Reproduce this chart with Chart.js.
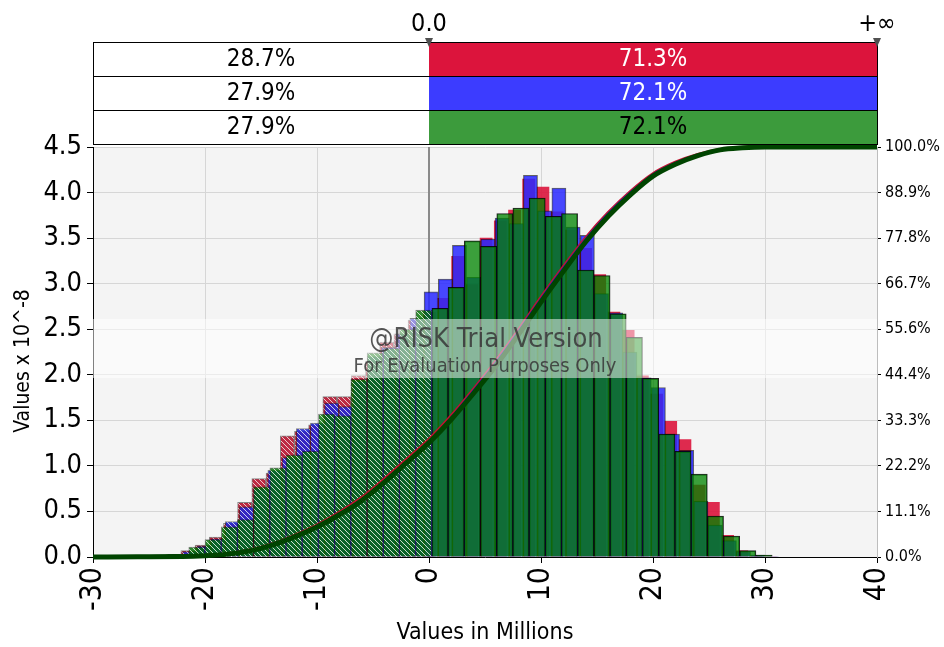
<!DOCTYPE html>
<html>
<head>
<meta charset="utf-8">
<script src="https://cdn.jsdelivr.net/npm/chart.js@4.4.1/dist/chart.umd.min.js"></script>
<style>
    html, body { margin: 0; padding: 0; background: #ffffff; }
    #wrap { width: 944px; height: 647px; }
</style>
</head>
<body>
<div id="wrap"><canvas id="chart" width="944" height="647"></canvas></div>
<script>
// Axis ticks
const xTickValues = [-30, -20, -10, 0, 10, 20, 30, 40];
const yTickValues = [0, 0.5, 1, 1.5, 2, 2.5, 3, 3.5, 4, 4.5];
const pctTickValues = [0, 11.1, 22.2, 33.3, 44.4, 55.6, 66.7, 77.8, 88.9, 100];

// Table above the plot (left of 0.0 / right of 0.0)
const leftShares = ["28.7%", "27.9%", "27.9%"];
const rightShares = ["71.3%", "72.1%", "72.1%"];
const splitLabels = ["0.0", "+\u221e"];

// Histogram: red simulation
const redCenters = [-29.14, -27.87, -26.60, -25.33, -24.06, -22.80, -21.53, -20.26, -18.99, -17.72,
    -16.46, -15.19, -13.92, -12.65, -11.38, -10.12, -8.85, -7.58, -6.31, -5.04, -3.78, -2.51, -1.24,
    0.03, 1.30, 2.56, 3.83, 5.10, 6.37, 7.64, 8.90, 10.17, 11.44, 12.71, 13.98, 15.24, 16.51, 17.78,
    19.05, 20.32, 21.58, 22.85, 24.12, 25.39, 26.66, 27.92, 29.19, 30.46];
const redHeights = [0.01, 0.01, 0.015, 0.015, 0.02, 0.03, 0.07, 0.13, 0.22, 0.37,
    0.60, 0.86, 0.92, 1.33, 1.38, 1.45, 1.76, 1.76, 1.99, 2.15, 2.36, 2.45, 2.60,
    2.70, 2.85, 3.31, 3.00, 3.51, 3.70, 3.82, 4.16, 4.07, 3.80, 3.60, 3.40, 3.11, 2.70, 2.50,
    2.00, 1.80, 1.50, 1.30, 0.80, 0.61, 0.25, 0.08, 0.02, 0.005];

// Histogram: blue simulation
const blueCenters = [-28.98, -27.71, -26.44, -25.17, -23.90, -22.64, -21.37, -20.10, -18.83, -17.56,
    -16.30, -15.03, -13.76, -12.49, -11.22, -9.96, -8.69, -7.42, -6.15, -4.88, -3.62, -2.35, -1.08,
    0.19, 1.46, 2.72, 3.99, 5.26, 6.53, 7.80, 9.06, 10.33, 11.60, 12.87, 14.14, 15.40, 16.67, 17.94,
    19.21, 20.48, 21.74, 23.01, 24.28, 25.55, 26.82, 28.08, 29.35, 30.62];
const blueHeights = [0.01, 0.01, 0.01, 0.015, 0.02, 0.03, 0.06, 0.12, 0.20, 0.39,
    0.55, 0.75, 0.95, 1.09, 1.41, 1.47, 1.69, 1.65, 1.93, 2.20, 2.30, 2.45, 2.62,
    2.91, 3.05, 3.42, 3.07, 3.49, 3.72, 3.66, 4.19, 3.80, 4.05, 3.62, 3.53, 2.89, 2.68, 2.25,
    1.97, 1.86, 1.35, 1.17, 0.61, 0.35, 0.18, 0.06, 0.02, 0.005];

// Histogram: green simulation
const greenCenters = [-29.41, -27.96, -26.52, -25.07, -23.62, -22.18, -20.73, -19.28, -17.83, -16.39,
    -14.94, -13.49, -12.05, -10.60, -9.15, -7.71, -6.26, -4.81, -3.36, -1.92, -0.47,
    0.98, 2.42, 3.87, 5.32, 6.77, 8.21, 9.66, 11.11, 12.55, 14.00, 15.45, 16.89, 18.34,
    19.79, 21.24, 22.68, 24.13, 25.58, 27.02, 28.47, 29.92];
const greenHeights = [0.01, 0.01, 0.01, 0.015, 0.02, 0.03, 0.11, 0.19, 0.33, 0.41,
    0.77, 0.98, 1.12, 1.16, 1.57, 1.55, 1.95, 2.24, 2.29, 2.50, 2.71,
    2.73, 2.96, 3.47, 3.41, 3.77, 3.83, 3.94, 3.74, 3.77, 3.15, 3.09, 2.67, 2.41,
    1.96, 1.35, 1.16, 0.91, 0.45, 0.23, 0.07, 0.02];

// Cumulative curves (percent, right axis)
const cumX = [-30, -26, -22, -20, -18, -16, -14, -12, -10, -8, -6, -4, -2, 0, 2, 4, 6, 8, 10,
    12, 14, 16, 18, 20, 22, 24, 26, 28, 30, 40];
const redCum = [0, 0.05, 0.15, 0.35, 0.8, 1.7, 3.2, 5.3, 7.8, 10.9, 14.5, 19.0, 23.8, 28.7, 34.5,
    41.0, 47.9, 55.4, 63.3, 70.8, 77.9, 84.0, 89.2, 93.5, 96.3, 98.2, 99.4, 99.9, 100, 100];
const blueCum = [0, 0.05, 0.12, 0.3, 0.75, 1.6, 3.0, 5.0, 7.4, 10.4, 13.9, 18.3, 23.1, 27.9, 33.9,
    40.5, 47.4, 54.9, 62.8, 70.3, 77.4, 83.6, 88.8, 93.2, 96.0, 98.0, 99.3, 99.8, 100, 100];
const greenCum = [0, 0.05, 0.1, 0.3, 0.7, 1.5, 2.9, 4.9, 7.3, 10.3, 13.8, 18.2, 23.0, 27.9, 33.6,
    40.0, 46.8, 54.3, 62.2, 69.7, 76.9, 83.1, 88.4, 92.9, 95.8, 97.9, 99.3, 99.8, 100, 100];

const FONT = "'Liberation Sans Narrow', 'DejaVu Sans Condensed', 'Liberation Sans', sans-serif";
const RED = "rgba(220, 20, 60, 0.9)";
const BLUE = "rgba(40, 40, 255, 0.85)";
const GREEN = "rgba(0, 132, 0, 0.76)";
const tableFills = ["#dc143c", "#3c3cff", "#3c9b3c"];
const tableText = ["#ffffff", "#ffffff", "#000000"];

// diagonal white stripes for the part left of 0.0
function makeHatch(color) {
    const c = document.createElement("canvas");
    c.width = 5;
    c.height = 5;
    const g = c.getContext("2d");
    g.fillStyle = color;
    g.fillRect(0, 0, 5, 5);
    g.fillStyle = "rgba(0, 40, 10, 0.15)";
    g.fillRect(0, 0, 5, 5);
    g.fillStyle = "rgba(255, 255, 255, 0.75)";
    for (let i = 0; i < 5; i++) g.fillRect(i, i, 1, 1);
    return g.createPattern(c, "repeat");
}

function points(xs, ys) {
    return xs.map((x, i) => ({ x: x, y: ys[i] }));
}

function barSet(label, xs, ys, color, axis, order, border) {
    const hatch = makeHatch(color);
    return {
        type: "bar",
        label: label,
        data: points(xs, ys),
        xAxisID: axis,
        yAxisID: "y",
        order: order,
        backgroundColor: (ctx) => (ctx.raw && ctx.raw.x < 0 ? hatch : color),
        borderColor: (ctx) => (ctx.raw && ctx.raw.x < 0 ? "rgba(0,0,0,0.45)" : border),
        borderWidth: 1,
        barPercentage: 1,
        categoryPercentage: 1,
        grouped: false,
    };
}

function lineSet(label, ys, color, width, order) {
    return {
        type: "line",
        label: label,
        data: points(cumX, ys),
        xAxisID: "x",
        yAxisID: "y2",
        order: order,
        borderColor: color,
        borderWidth: width,
        pointRadius: 0,
        fill: false,
        cubicInterpolationMode: "monotone",
        clip: 6,
    };
}

// Plot background, zero line, watermark and the split table
const decorPlugin = {
    id: "decor",
    beforeDraw(chart) {
        const { ctx, chartArea } = chart;
        ctx.save();
        ctx.fillStyle = "#f4f4f4";
        ctx.fillRect(chartArea.left, chartArea.top, chartArea.right - chartArea.left, chartArea.bottom - chartArea.top);
        ctx.restore();
    },
    beforeDatasetsDraw(chart) {
        const { ctx, chartArea } = chart;
        const x0 = chart.scales.x.getPixelForValue(0);
        ctx.save();
        ctx.strokeStyle = "#8a8a8a";
        ctx.lineWidth = 2;
        ctx.beginPath();
        ctx.moveTo(x0, chartArea.top);
        ctx.lineTo(x0, chartArea.bottom);
        ctx.stroke();
        ctx.restore();
    },
    afterDraw(chart) {
        const { ctx, chartArea } = chart;
        const left = chartArea.left;
        const right = chartArea.right;
        const x0 = chart.scales.x.getPixelForValue(0);
        ctx.save();

        // watermark band
        ctx.fillStyle = "rgba(255, 255, 255, 0.5)";
        ctx.fillRect(left, 319, right - left, 59);
        ctx.textAlign = "center";
        ctx.textBaseline = "alphabetic";
        ctx.fillStyle = "rgba(55, 55, 55, 0.85)";
        ctx.font = "27px " + FONT;
        ctx.fillText("@RISK Trial Version", 486, 347);
        ctx.font = "20px " + FONT;
        ctx.fillText("For Evaluation Purposes Only", 485, 372);

        // table rows
        const tableTop = 42;
        const rowH = 34;
        ctx.font = "24px " + FONT;
        ctx.textBaseline = "middle";
        for (let i = 0; i < leftShares.length; i++) {
            const top = tableTop + i * rowH;
            ctx.fillStyle = "#ffffff";
            ctx.fillRect(left, top, x0 - left, rowH);
            ctx.fillStyle = tableFills[i];
            ctx.fillRect(x0, top, right - x0, rowH);
            ctx.strokeStyle = "#000000";
            ctx.lineWidth = 1;
            ctx.strokeRect(left + 0.5, top + 0.5, right - left, rowH);
            ctx.fillStyle = "#000000";
            ctx.fillText(leftShares[i], (left + x0) / 2, top + rowH / 2 + 1);
            ctx.fillStyle = tableText[i];
            ctx.fillText(rightShares[i], (x0 + right) / 2, top + rowH / 2 + 1);
        }

        // split markers
        ctx.fillStyle = "#000000";
        ctx.font = "25px " + FONT;
        ctx.textBaseline = "alphabetic";
        ctx.fillText(splitLabels[0], x0, 31);
        ctx.fillText(splitLabels[1], right, 31);
        ctx.fillStyle = "#505050";
        [x0, right].forEach((px) => {
            ctx.beginPath();
            ctx.moveTo(px - 4, 38);
            ctx.lineTo(px + 4, 38);
            ctx.lineTo(px, 47);
            ctx.closePath();
            ctx.fill();
        });
        ctx.restore();
    },
};

const hiddenX = { type: "linear", min: -30, max: 40, offset: false, display: false };

new Chart(document.getElementById("chart"), {
    data: {
        datasets: [
            lineSet("Red cumulative", redCum, "#c8102e", 3, 2),
            lineSet("Blue cumulative", blueCum, "#1c1cc8", 3, 1),
            lineSet("Green cumulative", greenCum, "#004400", 5, 0),
            barSet("Red", redCenters, redHeights, RED, "xR", 5, "rgba(0,0,0,0)"),
            barSet("Blue", blueCenters, blueHeights, BLUE, "xB", 4, "rgba(0,0,0,0.6)"),
            barSet("Green", greenCenters, greenHeights, GREEN, "x", 3, "rgba(0,0,0,0.85)"),
        ],
    },
    options: {
        responsive: false,
        animation: false,
        layout: { padding: { top: 147, left: 0, right: 0, bottom: 0 } },
        plugins: {
            legend: { display: false },
            tooltip: { enabled: false },
        },
        scales: {
            x: {
                type: "linear",
                position: "bottom",
                min: -30,
                max: 40,
                offset: false,
                afterBuildTicks: (axis) => { axis.ticks = xTickValues.map((v) => ({ value: v })); },
                afterFit: (axis) => { axis.height = 90; },
                ticks: {
                    minRotation: 90,
                    maxRotation: 90,
                    padding: 4,
                    color: "#000000",
                    font: { family: FONT, size: 30 },
                    callback: (v) => String(v),
                },
                grid: { offset: false, color: "#d6d6d6", tickColor: "#000000", tickLength: 6 },
                border: { color: "#000000", width: 1 },
                title: {
                    display: true,
                    text: "Values in Millions",
                    color: "#000000",
                    font: { family: FONT, size: 23 },
                    padding: { top: 0, bottom: 0 },
                },
            },
            xR: hiddenX,
            xB: hiddenX,
            y: {
                type: "linear",
                position: "left",
                min: 0,
                max: 4.5,
                afterBuildTicks: (axis) => { axis.ticks = yTickValues.map((v) => ({ value: v })); },
                afterFit: (axis) => { axis.width = 93; },
                ticks: {
                    padding: 5,
                    color: "#000000",
                    font: { family: FONT, size: 27 },
                    callback: (v) => v.toFixed(1),
                },
                grid: { color: "#d6d6d6", tickColor: "#000000", tickLength: 6 },
                border: { color: "#000000", width: 1 },
                title: {
                    display: true,
                    text: "Values x 10^-8   ",
                    color: "#000000",
                    font: { family: FONT, size: 21 },
                    padding: { top: 11, bottom: 0 },
                },
            },
            y2: {
                type: "linear",
                position: "right",
                min: 0,
                max: 100,
                afterBuildTicks: (axis) => { axis.ticks = pctTickValues.map((v) => ({ value: v })); },
                afterFit: (axis) => { axis.width = 67; },
                ticks: {
                    padding: 4,
                    color: "#000000",
                    font: { family: FONT, size: 16 },
                    callback: (v) => v.toFixed(1) + "%",
                },
                grid: { drawOnChartArea: false, tickColor: "#000000", tickLength: 4 },
                border: { color: "#bdbdbd", width: 1 },
            },
        },
    },
    plugins: [decorPlugin],
});
</script>
</body>
</html>
